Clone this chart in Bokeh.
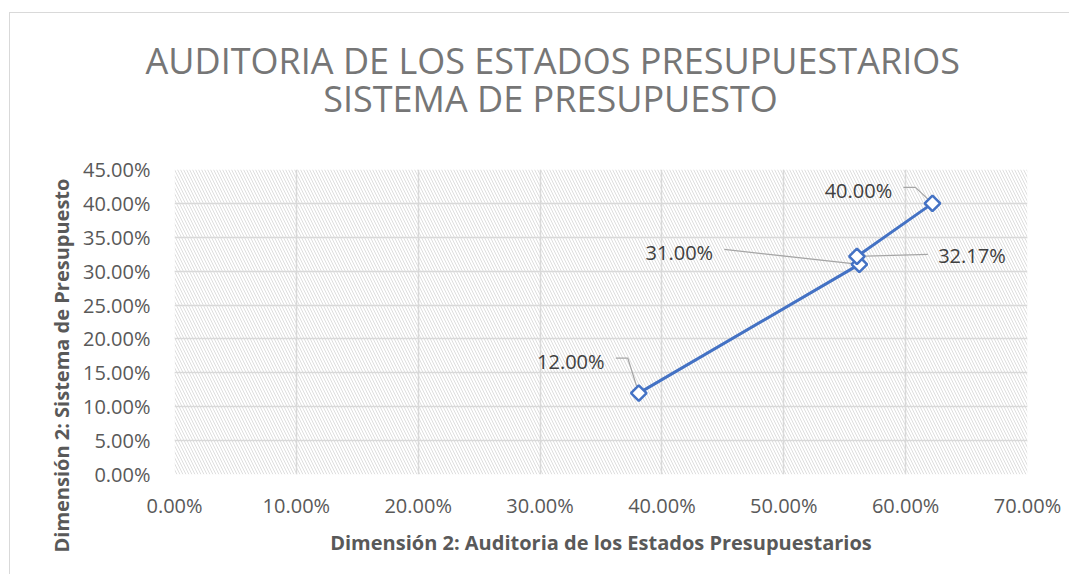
import math
from bokeh.plotting import figure
from bokeh.models import NumeralTickFormatter, FixedTicker, Range1d, Title, Label
from bokeh.embed import file_html
from bokeh.resources import INLINE

# ---- data ----
title_lines = ["AUDITORIA DE LOS ESTADOS PRESUPUESTARIOS", "SISTEMA DE PRESUPUESTO"]
x_title = "Dimensión 2: Auditoria de los Estados Presupuestarios"
y_title = "Dimensión 2: Sistema de Presupuesto"
x_vals = [0.381, 0.562, 0.560, 0.622]
y_vals = [0.12, 0.31, 0.3217, 0.40]
point_labels = ["12.00%", "31.00%", "32.17%", "40.00%"]
x_ticks = [0.0, 0.1, 0.2, 0.3, 0.4, 0.5, 0.6, 0.7]
y_ticks = [0.0, 0.05, 0.10, 0.15, 0.20, 0.25, 0.30, 0.35, 0.40, 0.45]

# ---- layout (pixels) ----
W, H = 1060, 562
FL, FT, FR, FB = 164, 156, 43, 101
FW = W - FL - FR
FH = H - FT - FB
X0, X1 = 0.0, 0.70
Y0, Y1 = 0.0, 0.45
dx_px = (X1 - X0) / FW
dy_px = (Y1 - Y0) / FH

FONT = "Open Sans"
BLUE = "#4472C4"

p = figure(width=W, height=H, output_backend="svg", toolbar_location=None,
           x_range=Range1d(X0, X1), y_range=Range1d(Y0, Y1),
           min_border_left=FL, min_border_top=FT, min_border_right=FR, min_border_bottom=FB,
           title=None)
p.styles = {"margin-left": "9px", "margin-top": "12px",
            "border-top": "1px solid #d9d9d9", "border-left": "1px solid #d9d9d9"}
p.outline_line_color = None
p.background_fill_color = "white"
p.border_fill_color = "white"

# hatched plot area
p.quad(left=[X0], right=[X1], bottom=[Y0], top=[Y1], fill_color="white",
       line_color=None, hatch_pattern="\\", hatch_color="#dedede",
       hatch_scale=6, hatch_weight=1, level="image")

for ax in (p.xaxis, p.yaxis):
    ax.axis_line_color = None
    ax.major_tick_line_color = None
    ax.minor_tick_line_color = None
    ax.major_label_text_font = FONT
    ax.major_label_text_font_size = "20px"
    ax.major_label_text_color = "#595959"

p.xaxis.ticker = FixedTicker(ticks=x_ticks)
p.yaxis.ticker = FixedTicker(ticks=y_ticks)
p.xaxis.formatter = NumeralTickFormatter(format="0.00%")
p.yaxis.formatter = NumeralTickFormatter(format="0.00%")
p.xaxis.major_label_standoff = 11
p.yaxis.major_label_standoff = 18

p.xaxis.axis_label = x_title
p.xaxis.axis_label_text_font = FONT
p.xaxis.axis_label_text_font_size = "20px"
p.xaxis.axis_label_text_font_style = "bold"
p.xaxis.axis_label_text_color = "#595959"
p.xaxis.axis_label_standoff = 7

p.grid.grid_line_color = "#d9d9d9"
p.grid.grid_line_width = 1.5
p.xgrid.ticker = FixedTicker(ticks=x_ticks)
p.ygrid.ticker = FixedTicker(ticks=y_ticks)

# leader lines (pixel offsets from the point)
leaders = [
    [(-23, -35), (-11, -35), (0, 0)],
    [(-135, -15), (0, 0)],
    [(71, -2), (0, 0)],
    [(-29, -16), (-17, -16), (0, 0)],
]
label_off = [(-68, -32), (-180, -12), (115, -1), (-74, -13)]
for xv, yv, pts in zip(x_vals, y_vals, leaders):
    xs = [xv + a * dx_px for a, b in pts]
    ys = [yv - b * dy_px for a, b in pts]
    p.line(xs, ys, line_color="#a6a6a6", line_width=1.3)

p.line(x_vals, y_vals, line_color=BLUE, line_width=3)
p.scatter(x_vals, y_vals, marker="square", angle=math.pi / 4, size=11,
          line_color=BLUE, line_width=2.5, fill_color="white")

for xv, yv, txt, (ox, oy) in zip(x_vals, y_vals, point_labels, label_off):
    p.add_layout(Label(x=xv, y=yv, x_offset=ox, y_offset=-oy, text=txt,
                       text_align="center", text_baseline="middle",
                       text_font=FONT, text_font_size="20px",
                       text_color="#404040"))

# chart title: two centred lines (second line indented with no-break spaces),
# followed by a blank spacer line that keeps it clear of the plot area
indent = "\u00a0" * 19
p.add_layout(Title(text=title_lines[0] + "\n" + indent + title_lines[1] + "\n\u00a0",
                   align="left", offset=-29,
                   text_font=FONT, text_font_size="36px", text_font_style="normal",
                   text_color="#767676", standoff=18, text_line_height=0.775), "above")

# y axis title
p.add_layout(Title(text=y_title, align="left", offset=-78,
                   text_font=FONT, text_font_size="20px", text_font_style="bold",
                   text_color="#595959", standoff=10), "left")

open("out.html", "w").write(file_html(p, INLINE))
